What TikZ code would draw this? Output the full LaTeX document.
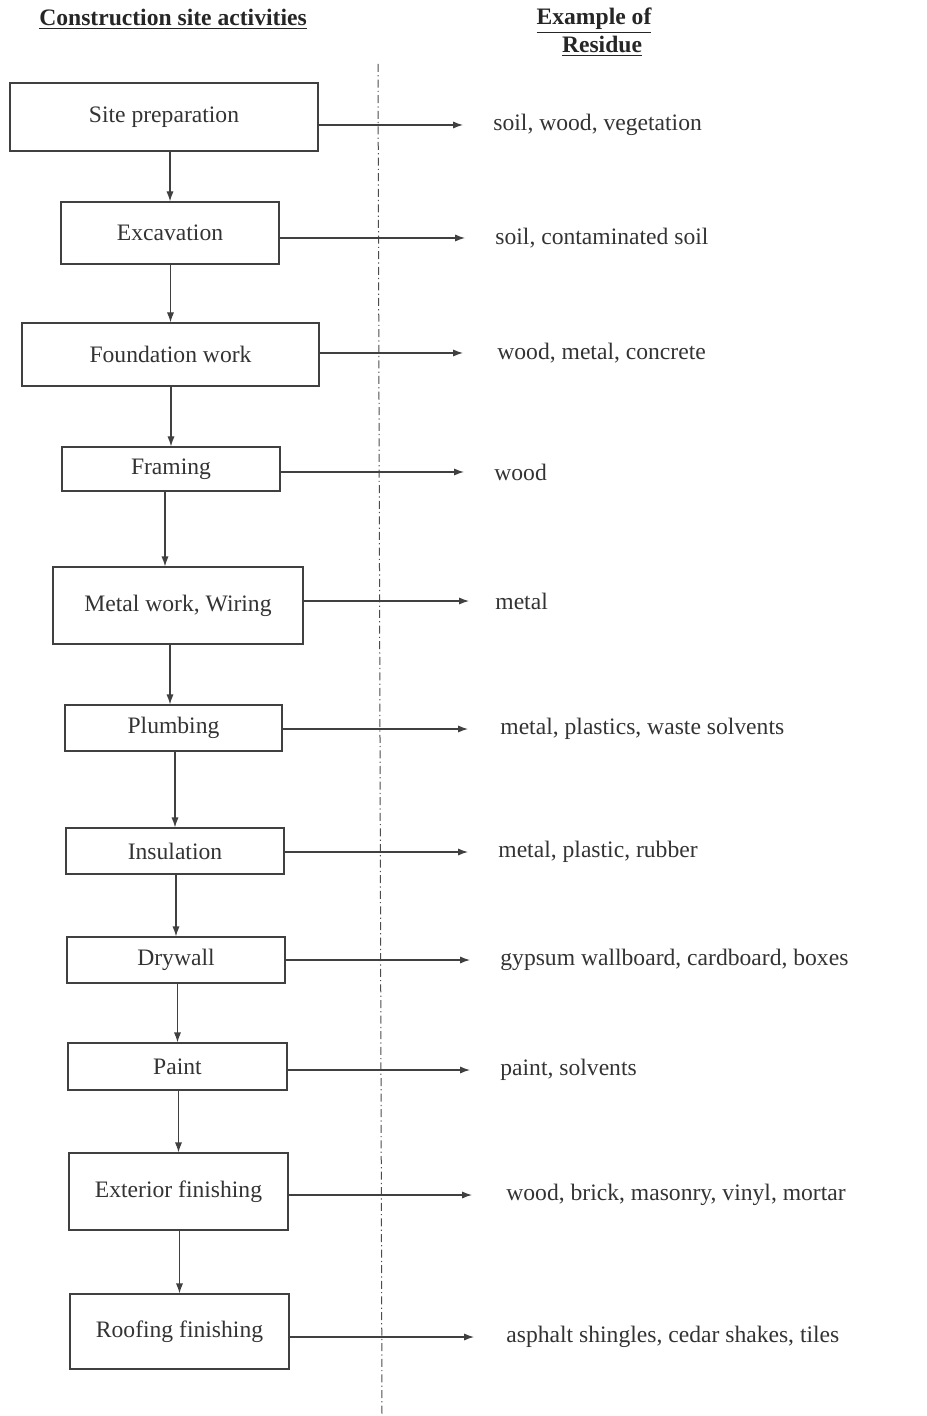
\documentclass[tikz,border=0pt]{standalone}
\usepackage{fontspec}
\setmainfont{Liberation Serif}
\usetikzlibrary{arrows.meta}

\tikzset{
  activity/.style={draw=black!75, line width=0.6pt, inner sep=0pt, text=black!80,
    font=\fontsize{11.8}{14}\selectfont},
  residue/.style={anchor=west, inner sep=0pt, yshift=-1pt, text=black!80,
    font=\fontsize{11.8}{14}\selectfont},
  heading/.style={inner sep=0pt, text=black!85, font=\fontsize{11.8}{14}\selectfont\bfseries},
  flow/.style={draw=black!75, line width=0.6pt, -{Latex[length=5pt,width=3.6pt]}},
  divider/.style={draw=black!70, line width=0.5pt, dash pattern=on 4pt off 1.6pt on 0.6pt off 1.6pt}
}

\begin{document}
\begin{tikzpicture}[x=0.5pt, y=-0.5pt]
  \useasboundingbox (0,0) rectangle (926,1416);

  % Headings
  \node[heading] (hact) at (173,19) {\underline{Construction site activities}};
  \node[heading] (hres1) at (594,21) {\underline{Example of}};
  \node[heading] (hres2) at (602,46) {\underline{Residue}};

  % Divider
  \coordinate (dtop) at (378,64);
  \coordinate (dbot) at (382,1416);
  \draw[divider] (dtop) -- (dbot);

  % Activities
  \node[activity, minimum width=154pt, minimum height=34pt]   (site)  at (164,117)    {Site preparation};
  \node[activity, minimum width=109pt, minimum height=31pt]   (exc)   at (170,233)    {Excavation};
  \node[activity, minimum width=148.5pt, minimum height=31.5pt] (found) at (170.5,354.5) {Foundation work};
  \node[activity, minimum width=109pt, minimum height=22pt]   (frame) at (171,469)    {Framing};
  \node[activity, minimum width=125pt, minimum height=38.5pt] (metal) at (178,605.5)  {Metal work, Wiring};
  \node[activity, minimum width=108.5pt, minimum height=23pt] (plumb) at (173.5,728)  {Plumbing};
  \node[activity, minimum width=109pt, minimum height=23pt]   (insul) at (175,851)    {Insulation};
  \node[activity, minimum width=109pt, minimum height=23pt]   (dry)   at (176,960)    {Drywall};
  \node[activity, minimum width=109.5pt, minimum height=23.5pt] (paint) at (177.5,1066.5) {Paint};
  \node[activity, minimum width=109.5pt, minimum height=38.5pt] (ext)   at (178.5,1191.5) {Exterior finishing};
  \node[activity, minimum width=109.5pt, minimum height=37.5pt] (roof)  at (179.5,1331.5) {Roofing finishing};

  % Residues
  \node[residue] (rsite)  at (493,123)  {soil, wood, vegetation};
  \node[residue] (rexc)   at (495,236)  {soil, contaminated soil};
  \node[residue] (rfound) at (497,351)  {wood, metal, concrete};
  \node[residue] (rframe) at (494,470)  {wood};
  \node[residue] (rmetal) at (495,599)  {metal};
  \node[residue] (rplumb) at (500,727)  {metal, plastics, waste solvents};
  \node[residue] (rinsul) at (498,850)  {metal, plastic, rubber};
  \node[residue] (rdry)   at (500,958)  {gypsum wallboard, cardboard, boxes};
  \node[residue] (rpaint) at (500,1068) {paint, solvents};
  \node[residue] (rext)   at (506,1193) {wood, brick, masonry, vinyl, mortar};
  \node[residue] (rroof)  at (506,1335) {asphalt shingles, cedar shakes, tiles};

  % Sequence
  \draw[flow] (site.south -| exc.north) -- (exc.north);
  \draw[flow] (exc.south -| found.north) -- (found.north);
  \draw[flow] (found.south -| frame.north) -- (frame.north);
  \draw[flow] ([xshift=-3pt]frame.south) -- ([xshift=-3pt]frame.south |- metal.north);
  \draw[flow] ([xshift=-4pt]metal.south) -- ([xshift=-4pt]metal.south |- plumb.north);
  \draw[flow] (plumb.south -| insul.north) -- (insul.north);
  \draw[flow] (insul.south -| dry.north) -- (dry.north);
  \draw[flow] (dry.south -| paint.north) -- (paint.north);
  \draw[flow] (paint.south -| ext.north) -- (ext.north);
  \draw[flow] (ext.south -| roof.north) -- (roof.north);

  % Residue arrows
  \draw[flow] (site.east |- rsite.west)   -- ([xshift=-15pt]rsite.west);
  \draw[flow] (exc.east |- rexc.west)     -- ([xshift=-15pt]rexc.west);
  \draw[flow] (found.east |- rfound.west) -- ([xshift=-17pt]rfound.west);
  \draw[flow] (frame.east |- rframe.west) -- ([xshift=-15pt]rframe.west);
  \draw[flow] (metal.east |- rmetal.west) -- ([xshift=-13pt]rmetal.west);
  \draw[flow] (plumb.east |- rplumb.west) -- ([xshift=-16pt]rplumb.west);
  \draw[flow] (insul.east |- rinsul.west) -- ([xshift=-15pt]rinsul.west);
  \draw[flow] (dry.east |- rdry.west)     -- ([xshift=-15pt]rdry.west);
  \draw[flow] (paint.east |- rpaint.west) -- ([xshift=-15pt]rpaint.west);
  \draw[flow] (ext.east |- rext.west)     -- ([xshift=-17pt]rext.west);
  \draw[flow] (roof.east |- rroof.west)   -- ([xshift=-16pt]rroof.west);
\end{tikzpicture}
\end{document}
